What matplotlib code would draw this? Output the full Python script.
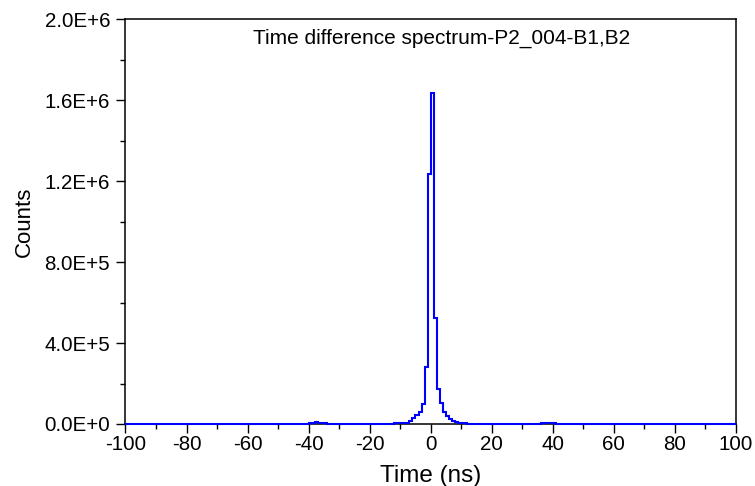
import matplotlib
matplotlib.use("Agg")
import matplotlib.pyplot as plt
import numpy as np
from matplotlib.ticker import MultipleLocator, FuncFormatter

plt.rcParams['font.family'] = ['Liberation Sans', 'DejaVu Sans']
plt.rcParams['axes.unicode_minus'] = False

# bin edges (ns)
edges = np.arange(-100, 101, 1)

# counts for bins starting at -100 .. -1
counts_neg = [
    600, 700, 650, 700, 750, 700, 650, 700, 750, 800,
    700, 750, 800, 750, 700, 800, 850, 800, 750, 800,
    850, 900, 850, 800, 850, 900, 950, 900, 850, 900,
    950, 1000, 950, 900, 1000, 1050, 1000, 950, 1000, 1100,
    1000, 1050, 1100, 1050, 1100, 1150, 1100, 1150, 1200, 1150,
    1200, 1250, 1200, 1250, 1300, 1250, 1300, 1400, 1600, 2200,
    3500, 6000, 8000, 7000, 4500, 2500, 1600, 1400, 1300, 1300,
    1300, 1300, 1350, 1300, 1350, 1400, 1400, 1450, 1500, 1500,
    1550, 1600, 1650, 1700, 1800, 1900, 2000, 2200, 2500, 3000,
    3500, 4500, 7000, 16000, 28000, 44000, 60000, 99000, 283000, 1234600,
]
# counts for bins starting at 0 .. 99
counts_pos = [
    1638000, 523000, 171000, 105000, 61000, 40000, 25000, 15000, 8000, 4500,
    3000, 2500, 2000, 1800, 1700, 1600, 1550, 1500, 1450, 1400,
    1400, 1350, 1350, 1300, 1300, 1300, 1250, 1250, 1200, 1200,
    1200, 1200, 1250, 1300, 1500, 2000, 3500, 6000, 7000, 5000,
    3000, 1800, 1300, 1200, 1100, 1100, 1050, 1000, 1000, 950,
    950, 900, 950, 900, 900, 850, 900, 850, 850, 800,
    850, 800, 800, 750, 800, 750, 750, 700, 750, 700,
    700, 700, 650, 700, 650, 650, 700, 650, 600, 650,
    600, 650, 600, 600, 650, 600, 550, 600, 550, 600,
    550, 600, 550, 550, 500, 550, 500, 550, 500, 500,
]
counts = counts_neg + counts_pos

x_ticks = [-100, -80, -60, -40, -20, 0, 20, 40, 60, 80, 100]
y_ticks = [0, 4e5, 8e5, 1.2e6, 1.6e6, 2.0e6]

title_text = "Time difference spectrum-P2_004-B1,B2"

fig = plt.figure(figsize=(7.55, 4.86), dpi=100)
ax = fig.add_axes([0.1662, 0.1276, 0.8086, 0.8323])

ax.stairs(counts, edges, color='#0000FF', linewidth=1.5, zorder=5, clip_on=False)

ax.set_xlim(-100, 100)
ax.set_ylim(0, 2.0e6)
ax.set_xticks(x_ticks)
ax.set_yticks(y_ticks)
ax.xaxis.set_minor_locator(MultipleLocator(10))
ax.yaxis.set_minor_locator(MultipleLocator(2e5))


def sci(v, pos):
    if v == 0:
        return "0.0E+0"
    e = int(np.floor(np.log10(abs(v))))
    m = v / 10 ** e
    return f"{m:.1f}E+{e}"


ax.yaxis.set_major_formatter(FuncFormatter(sci))

for s in ax.spines.values():
    s.set_linewidth(1.1)

ax.tick_params(axis='both', which='major', direction='out', length=6.5, width=1.0,
               labelsize=14.8)
ax.tick_params(axis='both', which='minor', direction='out', length=3.3, width=1.0)
ax.tick_params(axis='x', which='major', pad=1.5)
ax.tick_params(axis='y', which='major', pad=4.5)
ax.tick_params(top=False, right=False, which='both')

ax.set_xlabel("Time (ns)", fontsize=17.5, labelpad=8)
ax.set_ylabel("Counts", fontsize=16, labelpad=7)

ax.text(0.518, 0.954, title_text, transform=ax.transAxes, ha='center', va='center',
        fontsize=15)

fig.savefig("out.png", dpi=100)
